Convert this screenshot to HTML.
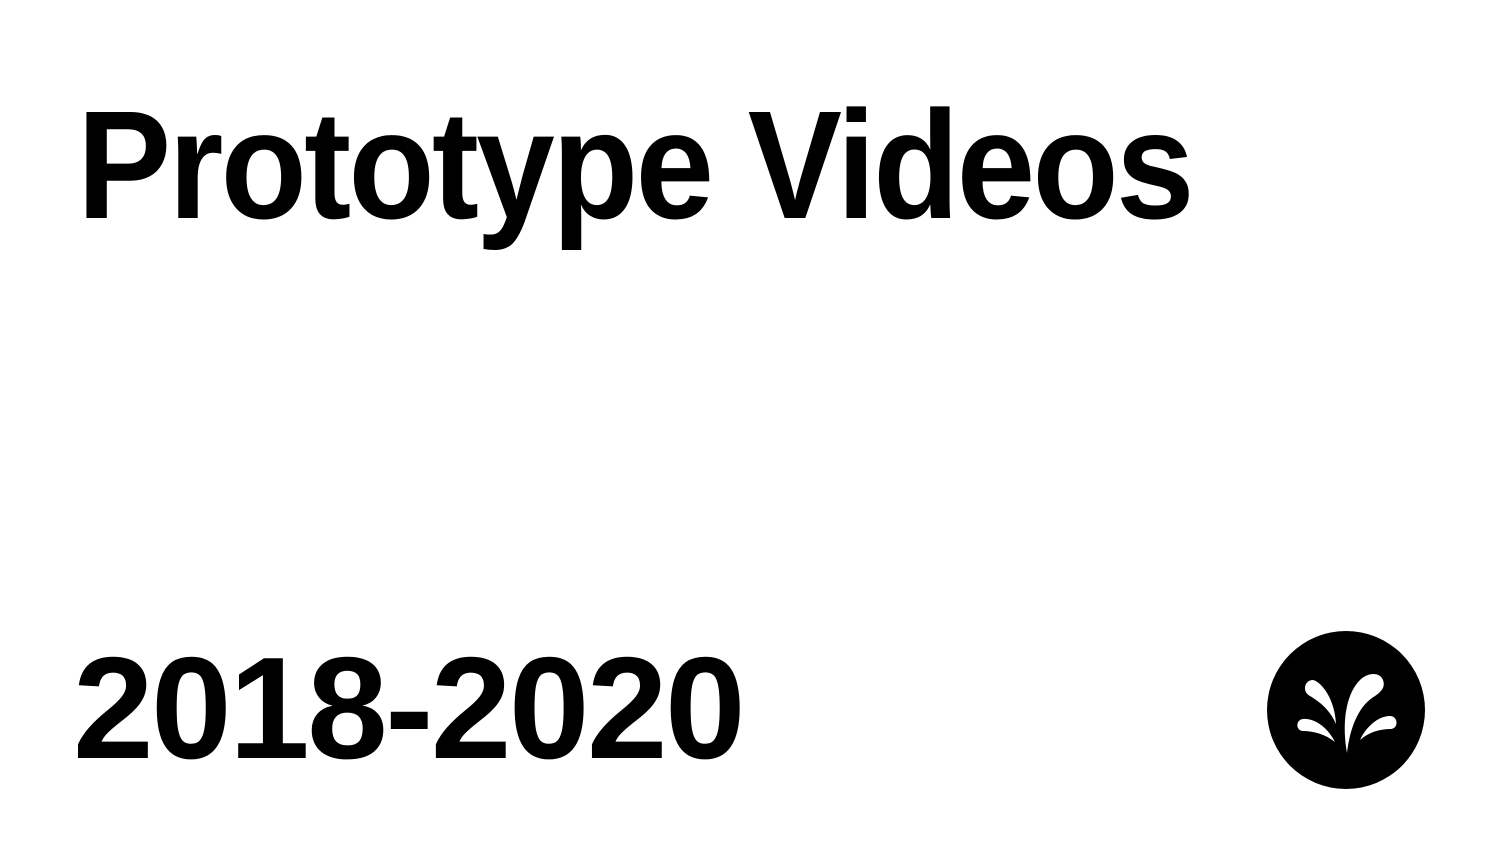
<!DOCTYPE html>
<html><head><meta charset="utf-8"><style>
html,body{margin:0;padding:0;background:#fff;}
body{width:1500px;height:844px;position:relative;overflow:hidden;font-family:"Liberation Sans",sans-serif;font-weight:bold;color:#000;}
.t{position:absolute;left:77px;top:88px;font-size:154px;line-height:1;letter-spacing:-3px;white-space:nowrap;transform:scaleX(0.917);transform-origin:0 0;}
.y{position:absolute;left:73px;top:636px;font-size:145px;line-height:1;letter-spacing:-2.6px;white-space:nowrap;}
svg{position:absolute;left:0;top:0;}
</style></head><body>
<div class="t">Prototype Videos</div>
<div class="y">2018-2020</div>
<svg width="1500" height="844">
<circle cx="1346" cy="710" r="79" fill="#000"/>
<g fill="#fff">
<path d="M1347,753 C1342,725 1345,695 1360,680 C1368,672 1380,672 1383,680 C1386,688 1380,693 1372,698 C1358,708 1350,728 1347,753 Z"/>
<path d="M1336,724 C1330,710 1320,702 1310,696 C1302,692 1304,680 1313,680 C1322,682 1335,700 1336,724 Z"/>
<path d="M1335,742 C1325,734 1313,731 1303,731 C1296,731 1295,720 1303,719 C1315,718 1328,728 1335,742 Z"/>
<path d="M1360,740 C1366,727 1378,716 1390,716 C1398,716 1399,728 1391,729 C1380,729 1369,732 1360,740 Z"/>
</g>
</svg>
</body></html>
